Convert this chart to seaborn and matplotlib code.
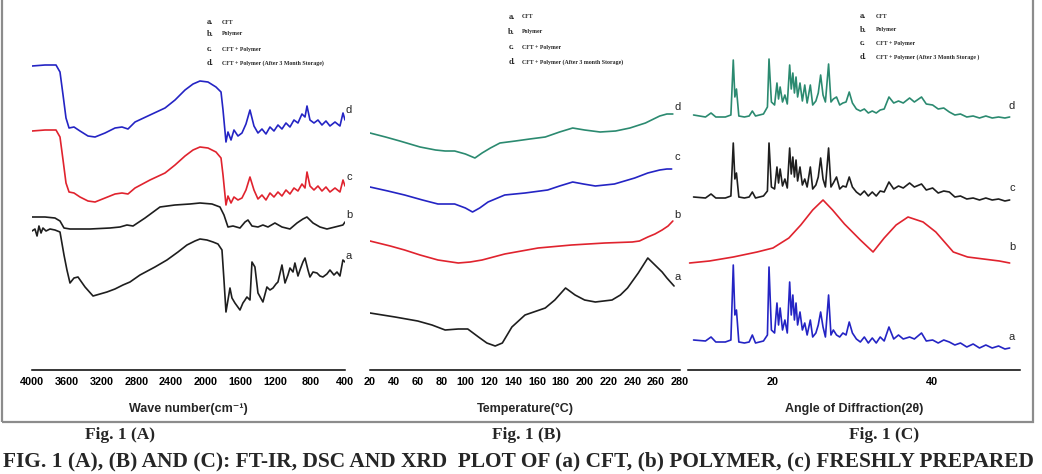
import numpy as np
import pandas as pd
import seaborn as sns
import matplotlib.pyplot as plt
from matplotlib.patches import Rectangle

# ---------------- data ----------------
# Fig 1(A) FT-IR, stacked transmittance (arbitrary units)
ftir_cd_wn = [4000, 3850, 3724, 3678, 3643, 3609, 3574, 3517, 3448, 3356,
              3275, 3160, 3045, 2965, 2896, 2815, 2643, 2470, 2355, 2240,
              2148, 2068, 1976, 1884, 1826, 1803, 1769, 1746, 1711, 1677,
              1631, 1585, 1539, 1493, 1447, 1401, 1355, 1309, 1263, 1217,
              1171, 1125, 1079, 1033, 987, 941, 895, 860, 837, 803,
              757, 711, 665, 619, 573, 515, 458, 423, 400]
ftir_d = [304, 305, 305, 298, 275, 252, 242, 243, 239, 234,
          233, 237, 242, 243, 241, 248, 255, 262, 270, 280,
          286, 289, 288, 283, 278, 260, 228, 238, 230, 240,
          234, 237, 246, 260, 244, 237, 241, 236, 243, 239,
          245, 241, 247, 243, 250, 247, 256, 253, 264, 250,
          247, 250, 245, 249, 244, 248, 244, 257, 250]
ftir_c = [239, 240, 240, 233, 210, 187, 178, 177, 173, 169,
          168, 172, 176, 177, 176, 182, 190, 197, 205, 214,
          220, 223, 222, 218, 212, 195, 165, 174, 167, 173,
          170, 172, 180, 193, 180, 171, 175, 170, 177, 173,
          178, 174, 180, 176, 182, 179, 186, 182, 198, 184,
          180, 184, 179, 183, 178, 182, 178, 190, 184]

ftir_b_wn = [4000, 3850, 3736, 3678, 3632, 3563, 3333, 3103, 2988, 2908,
             2838, 2700, 2528, 2356, 2183, 2068, 1930, 1838, 1792, 1746,
             1688, 1608, 1550, 1516, 1470, 1401, 1344, 1286, 1206, 1125,
             1033, 952, 884, 838, 768, 688, 608, 515, 424, 400]
ftir_b = [153, 153, 152, 149, 142, 141, 141, 142, 143, 145,
          144, 152, 163, 165, 166, 167, 166, 163, 155, 143,
          144, 142, 148, 150, 144, 143, 145, 143, 147, 143,
          141, 147, 151, 153, 147, 143, 141, 143, 145, 148]

ftir_a_wn = [4000, 3966, 3942, 3920, 3896, 3874, 3839, 3793, 3736, 3678,
             3632, 3598, 3563, 3517, 3471, 3390, 3298, 3218, 3138, 3046,
             2954, 2873, 2758, 2586, 2448, 2321, 2218, 2126, 2068, 1988,
             1918, 1861, 1815, 1792, 1769, 1746, 1723, 1700, 1666, 1608,
             1574, 1550, 1528, 1493, 1470, 1436, 1401, 1344, 1298, 1263,
             1228, 1194, 1171, 1125, 1090, 1056, 1033, 998, 976, 941,
             918, 884, 860, 826, 803, 768, 722, 688, 654, 608,
             573, 527, 492, 458, 424, 400]
ftir_a = [139, 141, 134, 144, 137, 142, 139, 141, 140, 138,
          115, 100, 87, 92, 93, 83, 74, 76, 78, 81,
          85, 88, 95, 103, 110, 118, 125, 129, 131, 130,
          128, 126, 120, 90, 58, 70, 82, 72, 67, 60,
          67, 70, 73, 70, 108, 103, 77, 68, 83, 80,
          82, 86, 88, 105, 87, 95, 102, 98, 107, 94,
          100, 108, 112, 100, 93, 98, 97, 94, 93, 96,
          100, 95, 98, 94, 110, 108]

# Fig 1(B) DSC, stacked heat flow (arbitrary units)
dsc_d_t = [20, 33, 45, 62, 75, 83, 91, 100, 108, 114, 121, 129, 142,
           154, 167, 179, 190, 200, 213, 226, 238, 251, 263, 269, 274]
dsc_d = [237, 233, 229, 223, 220, 219, 219, 216, 212, 217, 222, 227, 229,
         231, 233, 238, 242, 240, 238, 239, 242, 247, 254, 256, 256]
dsc_c_t = [20, 35, 49, 64, 77, 91, 100, 106, 112, 119, 127, 133,
           150, 169, 179, 190, 199, 209, 225, 242, 253, 263, 269, 273]
dsc_c = [183, 179, 175, 170, 166, 166, 162, 158, 162, 168, 172, 175,
         177, 180, 184, 188, 186, 184, 186, 192, 197, 200, 201, 201]
dsc_b_t = [20, 37, 49, 62, 77, 94, 104, 114, 133, 161,
           189, 217, 240, 246, 253, 259, 265, 270, 274]
dsc_b = [129, 124, 120, 115, 110, 107, 108, 110, 116, 122,
         125, 127, 128, 129, 133, 136, 140, 144, 149]
dsc_a_t = [20, 41, 60, 72, 83, 94, 102, 111, 118, 125, 131, 139, 150, 167,
           175, 184, 192, 200, 209, 223, 230, 236, 245, 253, 259, 265, 269, 275]
dsc_a = [57, 53, 49, 45, 40, 41, 41, 33, 27, 24, 27, 43, 55, 62,
         70, 82, 75, 70, 68, 70, 75, 82, 97, 112, 105, 98, 92, 84]

# Fig 1(C) XRD, relative intensity above each trace's baseline
two_theta = [10.0, 11.5, 12.2, 12.8, 14.0, 14.7, 15.0, 15.2, 15.4, 15.7,
             16.4, 17.0, 17.4, 17.8, 18.8, 19.3, 19.5, 19.8, 20.2, 20.5,
             20.7, 20.9, 21.2, 21.5, 21.8, 22.1, 22.3, 22.5, 22.7, 22.9,
             23.1, 23.4, 23.7, 24.0, 24.3, 24.7, 25.0, 25.4, 25.7, 26.0,
             26.3, 26.6, 27.0, 27.3, 27.6, 28.0, 28.4, 28.8, 29.2, 29.6,
             30.0, 30.5, 31.0, 31.5, 32.0, 32.5, 33.0, 33.5, 34.0, 34.6,
             35.2, 35.8, 36.4, 37.2, 37.8, 38.7, 39.3, 40.1, 40.8, 41.5,
             42.2, 42.9, 43.6, 44.4, 45.2, 46.0, 46.8, 47.6, 48.4, 49.2,
             49.8]
xrd_a = [5, 4, 8, 3, 3, 5, 80, 30, 35, 3,
         2, 3, 10, 2, 4, 10, 78, 15, 12, 42,
         20, 37, 15, 25, 12, 63, 30, 50, 25, 42,
         20, 33, 15, 22, 10, 25, 8, 12, 20, 33,
         18, 8, 50, 10, 15, 10, 8, 12, 10, 23,
         12, 6, 3, 8, 2, 7, 2, 8, 4, 18,
         6, 10, 6, 8, 6, 12, 4, 5, 2, 5,
         3, 0, 2, -2, 1, -3, 0, -3, -1, -4,
         -3]
xrd_c = [2, 1, 5, 1, 1, 3, 56, 20, 26, 2,
         1, 2, 7, 1, 3, 8, 56, 12, 10, 32,
         16, 30, 13, 20, 11, 51, 25, 42, 22, 39,
         18, 32, 14, 20, 12, 32, 10, 14, 22, 41,
         20, 12, 51, 12, 16, 22, 10, 13, 12, 22,
         12, 7, 4, 8, 3, 7, 3, 8, 7, 17,
         10, 13, 11, 16, 12, 15, 9, 11, 6, 8,
         7, 2, 3, 0, 1, -1, 1, -1, 0, -2,
         -1]
xrd_d = [2, 0, 4, 0, 0, 2, 57, 20, 28, 1,
         0, 1, 6, 1, 3, 10, 58, 15, 12, 34,
         18, 30, 15, 22, 13, 52, 28, 44, 24, 40,
         20, 34, 16, 32, 14, 32, 12, 16, 24, 42,
         22, 15, 53, 15, 18, 20, 12, 14, 15, 25,
         14, 8, 6, 8, 4, 6, 4, 7, 8, 20,
         14, 16, 14, 19, 15, 20, 13, 12, 8, 9,
         5, 2, 3, 0, 1, -1, 1, -1, 0, -1,
         0]
xrd_b_2t = [9.5, 12, 15, 18, 20, 22, 23.5, 25, 26.3, 27.5, 29, 31,
            32.6, 34, 35.5, 37.0, 38.9, 40.5, 42.7, 44.5, 46.5, 48.5, 49.8]
xrd_b = [2, 4, 8, 13, 17, 27, 40, 55, 65, 55, 41, 25,
         13, 27, 40, 48, 43, 33, 13, 8, 6, 4, 2]

samples = ["a", "b", "c", "d"]
legend_text = {
    "A": ["CFT", "Polymer", "CFT + Polymer", "CFT + Polymer (After 3 Month Storage)"],
    "B": ["CFT", "Polymer", "CFT + Polymer", "CFT + Polymer (After 3 month Storage)"],
    "C": ["CFT", "Polymer", "CFT + Polymer", "CFT + Polymer (After 3 Month Storage )"],
}
caption_line = ("FIG. 1 (A), (B) AND (C): FT-IR, DSC AND XRD  "
                "PLOT OF (a) CFT, (b) POLYMER, (c) FRESHLY PREPARED")

# ---------------- styling ----------------
sns.set_style("white")
plt.rcParams["font.family"] = ["Liberation Sans Narrow", "Liberation Sans", "DejaVu Sans"]

BLUE, RED, BLACK, TEAL = "#2424c4", "#e0232e", "#1e1e1e", "#2b8a70"
colors_A = {"a": BLACK, "b": BLACK, "c": RED, "d": BLUE}
colors_B = {"a": BLACK, "b": RED, "c": BLUE, "d": TEAL}
colors_C = {"a": BLUE, "b": RED, "c": BLACK, "d": TEAL}
xrd_offset = {"a": 25, "b": 105, "c": 171, "d": 253}

ftir = pd.concat([
    pd.DataFrame({"x": ftir_a_wn, "y": ftir_a, "s": "a"}),
    pd.DataFrame({"x": ftir_b_wn, "y": ftir_b, "s": "b"}),
    pd.DataFrame({"x": ftir_cd_wn, "y": ftir_c, "s": "c"}),
    pd.DataFrame({"x": ftir_cd_wn, "y": ftir_d, "s": "d"}),
])
dsc = pd.concat([
    pd.DataFrame({"x": dsc_a_t, "y": dsc_a, "s": "a"}),
    pd.DataFrame({"x": dsc_b_t, "y": dsc_b, "s": "b"}),
    pd.DataFrame({"x": dsc_c_t, "y": dsc_c, "s": "c"}),
    pd.DataFrame({"x": dsc_d_t, "y": dsc_d, "s": "d"}),
])
xrd = pd.concat([
    pd.DataFrame({"x": two_theta, "y": xrd_a, "s": "a"}),
    pd.DataFrame({"x": xrd_b_2t, "y": xrd_b, "s": "b"}),
    pd.DataFrame({"x": two_theta, "y": xrd_c, "s": "c"}),
    pd.DataFrame({"x": two_theta, "y": xrd_d, "s": "d"}),
])
xrd["y"] = xrd["y"] + xrd["s"].map(xrd_offset)

W, H = 1042, 474
fig = plt.figure(figsize=(W / 100, H / 100), dpi=100)


def px_axes(x0, x1):
    # axes spanning pixel columns x0..x1, bottom spine at pixel row 370
    return fig.add_axes([x0 / W, (H - 370) / H, (x1 - x0) / W, 370 / H])


axA = px_axes(32, 345)
axB = px_axes(370, 680)
axC = px_axes(688, 1020)

for ax, df, pal in [(axA, ftir, colors_A), (axB, dsc, colors_B), (axC, xrd, colors_C)]:
    sns.lineplot(data=df, x="x", y="y", hue="s", palette=pal, estimator=None,
                 sort=False, legend=False, linewidth=1.2, ax=ax)
    ax.set_ylim(0, 370)
    ax.set_yticks([])
    ax.set_ylabel("")
    for side in ["left", "right", "top"]:
        ax.spines[side].set_visible(False)
    ax.spines["bottom"].set_color("black")
    ax.spines["bottom"].set_linewidth(1.1)
    ax.patch.set_alpha(0)
    ax.tick_params(axis="x", which="major", direction="out", length=3.2, width=1.0,
                   pad=1.5, labelsize=7.8, colors="black")
    ax.tick_params(axis="x", which="minor", direction="in", length=2.2, width=1.0)

axA.set_xlim(4000, 400)
axA.set_xticks(np.arange(4000, 399, -400))
axA.set_xticks(np.arange(3800, 400, -400), minor=True)
axB.set_xlim(20, 280)
axB.set_xticks(np.arange(20, 281, 20))
axB.set_xticks(np.arange(30, 280, 20), minor=True)
axC.set_xlim(9.3, 51.1)
axC.set_xticks([20, 40])
axC.set_xticks([10, 30, 50], minor=True)
axC.tick_params(axis="x", which="minor", direction="out", length=2.5)

for ax in (axA, axB, axC):
    for lab in ax.get_xticklabels():
        lab.set_fontweight("bold")

axA.set_xlabel("Wave number(cm\u207b\u00b9)", fontsize=9, fontweight="bold", labelpad=12)
axB.set_xlabel("Temperature(\u00b0C)", fontsize=9, fontweight="bold", labelpad=12)
axC.set_xlabel("Angle of Diffraction(2\u03b8)", fontsize=9, fontweight="bold", labelpad=12)

# trace letters at the right end of each curve
end_labels = {
    axA: (354, [114, 155, 193, 260]),
    axB: (278, [93, 155, 213, 263]),
    axC: (50.1, [33, 123, 182, 264]),
}
for ax, (xe, ys) in end_labels.items():
    for s, yv in zip(samples, ys):
        ax.text(xe, yv, s, fontsize=8, ha="center", va="center", clip_on=False,
                family=["Liberation Sans", "DejaVu Sans"])

# small key in each panel
keys = {
    "A": (axA, 1988, 1815, [348, 336, 321, 307]),
    "B": (axB, 136, 147.5, [353, 338, 323, 308]),
    "C": (axC, 30.9, 33.0, [354, 340, 327, 313]),
}
for k, (ax, xl, xt, ys) in keys.items():
    for s, txt, yv in zip(samples, legend_text[k], ys):
        ax.text(xl, yv, s + ".", fontsize=6, fontweight="bold", ha="left", va="center",
                family=["Liberation Serif", "DejaVu Serif"], clip_on=False)
        ax.text(xt, yv, txt, fontsize=4.2, fontweight="bold", ha="left", va="center",
                family=["Liberation Serif", "DejaVu Serif"], clip_on=False)

# outer grey frame
fig.patches.append(Rectangle((2 / W, (H - 422) / H), 1031 / W, 422 / H + 0.01,
                             transform=fig.transFigure, fill=False,
                             edgecolor="#8c8c8c", linewidth=1.6))

# caption
serif = ["Liberation Serif", "DejaVu Serif"]
for xc, txt in [(120, "Fig. 1 (A)"), (527, "Fig. 1 (B)"), (884, "Fig. 1 (C)")]:
    fig.text(xc / W, (H - 439) / H, txt, ha="center", va="baseline", fontsize=12.5,
             fontweight="bold", family=serif)

# second caption line runs across the full width: size it to fit
renderer = fig.canvas.get_renderer()
cap = fig.text(3 / W, (H - 466) / H, caption_line, ha="left", va="baseline",
               fontsize=16, fontweight="bold", family=serif)
cap_w = cap.get_window_extent(renderer).width
cap.set_fontsize(16 * 1035 / cap_w)

fig.savefig("out.png", dpi=100)
